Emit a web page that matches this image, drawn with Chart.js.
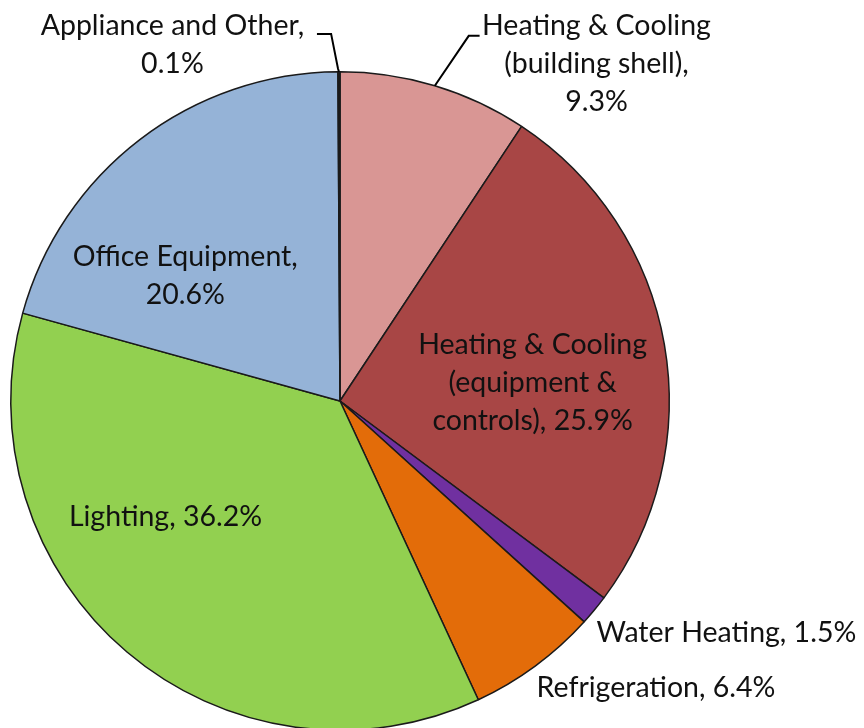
<!DOCTYPE html>
<html>
<head>
<meta charset="utf-8">
<script src="https://cdn.jsdelivr.net/npm/chart.js@4/dist/chart.umd.min.js"></script>
<style>
  html, body { margin: 0; padding: 0; background: #fff; overflow: hidden; }
  #wrap { position: relative; width: 864px; height: 740px; }
</style>
</head>
<body>
<div id="wrap"><canvas id="energyPie"></canvas></div>
<script>
// slices go clockwise from 12 o'clock
const categories = [
  "Heating & Cooling (building shell)",
  "Heating & Cooling (equipment & controls)",
  "Water Heating",
  "Refrigeration",
  "Lighting",
  "Office Equipment",
  "Appliance and Other"
];
const shares = [9.3, 25.9, 1.5, 6.4, 36.2, 20.6, 0.1];
const sliceColors = ["#D99694", "#A84645", "#7030A0", "#E36C09", "#92D050", "#95B3D7", "#1a1a1a"];

// label text, {v} gets the value
const labelText = [
  ["Heating & Cooling", "(building shell),", "{v}%"],
  ["Heating & Cooling", "(equipment &", "controls), {v}%"],
  ["Water Heating, {v}%"],
  ["Refrigeration, {v}%"],
  ["Lighting, {v}%"],
  ["Office Equipment,", "{v}%"],
  ["Appliance and Other,", "{v}%"]
];

// where the labels sit, in units of the pie radius from its centre
const labelPlace = [
  { ux: 0.779, uy: -1.139, align: "center", leader: [[0.391, -1.109], [0.424, -1.109]] },
  { ux: 0.585, uy: -0.170, align: "center" },
  { ux: 0.779, uy: 0.703, align: "left" },
  { ux: 0.597, uy: 0.870, align: "left" },
  { ux: -0.530, uy: 0.352, align: "center" },
  { ux: -0.470, uy: -0.439, align: "center" },
  { ux: -0.509, uy: -1.139, align: "center", leader: [[-0.006, -1.009], [-0.027, -1.115], [-0.070, -1.115]] }
];

const FONT = '28.5px "Lato", "Liberation Sans", sans-serif';
const LINE_H = 38;

const pieLabels = {
  id: "pieLabels",
  afterDatasetsDraw(chart) {
    const ctx = chart.ctx;
    const arcs = chart.getDatasetMeta(0).data;
    ctx.save();
    arcs.forEach((arc, i) => {
      const p = arc.getProps(["x", "y", "startAngle", "endAngle", "outerRadius"], true);
      const R = p.outerRadius;
      const place = labelPlace[i];
      if (place.leader) {
        const mid = (p.startAngle + p.endAngle) / 2;
        ctx.beginPath();
        ctx.moveTo(p.x + Math.cos(mid) * R, p.y + Math.sin(mid) * R);
        place.leader.forEach(pt => ctx.lineTo(p.x + pt[0] * R, p.y + pt[1] * R));
        ctx.strokeStyle = "#000";
        ctx.lineWidth = 2;
        ctx.stroke();
      }
      ctx.font = FONT;
      ctx.fillStyle = "#111";
      ctx.textAlign = place.align;
      ctx.textBaseline = "middle";
      const x = p.x + place.ux * R;
      const y0 = p.y + place.uy * R;
      labelText[i].forEach((line, k) => {
        ctx.fillText(line.replace("{v}", shares[i].toFixed(1)), x, y0 + k * LINE_H);
      });
    });
    ctx.restore();
  }
};

new Chart(document.getElementById("energyPie"), {
  type: "pie",
  data: {
    labels: categories,
    datasets: [{
      data: shares,
      backgroundColor: sliceColors,
      borderColor: "#1a1a1a",
      borderWidth: 1.5
    }]
  },
  options: {
    responsive: true,
    maintainAspectRatio: false,
    animation: false,
    layout: { padding: { left: 10, right: 194, top: 71, bottom: 9 } },
    plugins: {
      legend: { display: false },
      tooltip: { enabled: false }
    }
  },
  plugins: [pieLabels]
});
</script>
</body>
</html>
